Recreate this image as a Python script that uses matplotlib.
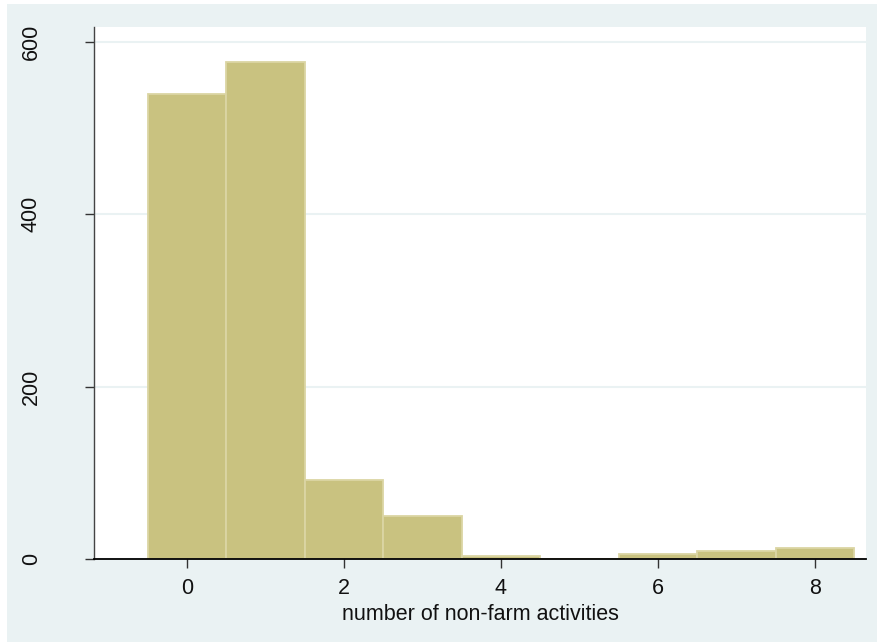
import matplotlib
matplotlib.use("Agg")
import matplotlib.pyplot as plt
from matplotlib.patches import Rectangle

# Histogram data (bin centres and frequencies)
ACTIVITIES = [0, 1, 2, 3, 4, 5, 6, 7, 8]
COUNTS = [539, 576, 92, 50, 3, 0, 6, 9, 13]
XTICKS = [0, 2, 4, 6, 8]
YTICKS = [0, 200, 400, 600]

BG = '#eaf2f3'
FILL = '#c9c280'
EDGE = '#dbd5a4'

plt.rcParams['font.family'] = ['Liberation Sans', 'DejaVu Sans']

W, H = 877, 642
fig = plt.figure(figsize=(W / 100, H / 100), dpi=100, facecolor='white')
# Stata-like outer graph region
fig.patches.append(Rectangle((7 / W, 0), 1, 1 - 4 / H, transform=fig.transFigure,
                             facecolor=BG, edgecolor='none', zorder=-10))

ax = fig.add_axes([94 / W, (H - 559) / H, (866 - 94) / W, (559 - 27) / H])
ax.set_zorder(5)
ax.set_facecolor('white')

ax.bar(ACTIVITIES, COUNTS, width=1.0, color=FILL, edgecolor=EDGE, linewidth=1.3, zorder=2)

ax.set_xlim(-1.185, 8.65)
ax.set_ylim(0, 617)
ax.set_xticks(XTICKS)
ax.set_yticks(YTICKS)
ax.set_yticklabels([str(v) for v in YTICKS], rotation=90, va='center')

ax.grid(axis='y', color=BG, linewidth=1.5, zorder=1)
ax.set_axisbelow(True)

for side in ['top', 'right']:
    ax.spines[side].set_visible(False)
ax.spines['left'].set_color('#444444')
ax.spines['bottom'].set_color('black')
ax.spines['left'].set_linewidth(1.0)
ax.spines['bottom'].set_linewidth(1.3)

ax.tick_params(axis='x', length=6.5, width=1.0, color='#333333', pad=7, labelsize=15.5, labelcolor='#111111')
ax.tick_params(axis='y', length=6.5, width=1.0, color='#333333', pad=31, labelsize=15.5, labelcolor='#111111')

ax.set_xlabel('number of non-farm activities', fontsize=15.5, color='#111111', labelpad=4)

fig.savefig('out.png', dpi=100, facecolor='white')
plt.close(fig)
